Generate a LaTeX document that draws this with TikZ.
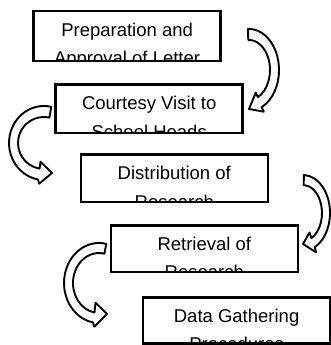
\documentclass[tikz,border=0pt]{standalone}
\usepackage{fontspec}
\setmainfont{Liberation Sans}

\tikzset{
  stage/.style={draw=black, line width=2.6pt, minimum width=187, minimum height=48,
    inner sep=0pt, outer sep=0pt},
  stage text/.style={font=\fontsize{18.5}{28.5}\selectfont, align=center, anchor=base,
    inner sep=0pt},
  turn/.style={draw=black, fill=white, line width=1.9pt, line join=round},
}

\begin{document}
\begin{tikzpicture}[x=1pt, y=-1pt]
    \useasboundingbox (0,0) rectangle (331,345);

    % Place the stages
    \node[stage, minimum height=50]   (prep)  at (127.1,36.2) {};
    \node[stage, minimum height=48.3] (visit) at (149.2,108.8) {};
    \node[stage, minimum height=47.3] (dist)  at (174.3,178.3) {};
    \node[stage, minimum height=46.7] (retr)  at (204.3,248.6) {};
    \node[stage, minimum height=46.5] (data)  at (236.6,320.5) {};

    % Text of each stage, cut off by its box (base = second line)
    \foreach \s/\t in {prep/{Preparation and\\Approval of Letter},
                       visit/{Courtesy Visit to\\School Heads},
                       dist/{Distribution of\\Research},
                       retr/{Retrieval of\\Research},
                       data/{Data Gathering\\Procedures}} {
        \begin{scope}
            \clip (\s.south west) rectangle (\s.north east);
            \node[stage text] (\s text) at ([yshift=-53.5pt]\s.north) {\t};
        \end{scope}
    }

    % Turning arrows between the stages
    \draw[turn, shift={(249,70)}]
        (-92:30 and 41) arc[start angle=-92, end angle=65, x radius=30, y radius=41]
        -- (65:35 and 46) -- (0,39) -- (65:16 and 25) -- (65:21 and 30)
        arc[start angle=65, end angle=-92, x radius=21, y radius=30] -- cycle;
    \draw[turn, shift={(44,143)}]
        (282:35 and 37) arc[start angle=282, end angle=100, x radius=35, y radius=37]
        -- (97:39 and 41) -- (8,30) -- (100:20 and 19) -- (100:26 and 26)
        arc[start angle=100, end angle=282, x radius=26, y radius=26] -- cycle;
    \draw[turn, shift={(303,213)}]
        (-88:27 and 38) arc[start angle=-88, end angle=64, x radius=27, y radius=38]
        -- (66:32 and 43) -- (0,31) -- (62:14 and 22) -- (64:19 and 28)
        arc[start angle=64, end angle=-88, x radius=19, y radius=28] -- cycle;
    \draw[turn, shift={(99,283)}]
        (282:35 and 40) arc[start angle=282, end angle=100, x radius=35, y radius=40]
        -- (97:39 and 44) -- (8,31) -- (100:20 and 20) -- (100:26 and 30)
        arc[start angle=100, end angle=282, x radius=26, y radius=30] -- cycle;

\end{tikzpicture}
\end{document}
